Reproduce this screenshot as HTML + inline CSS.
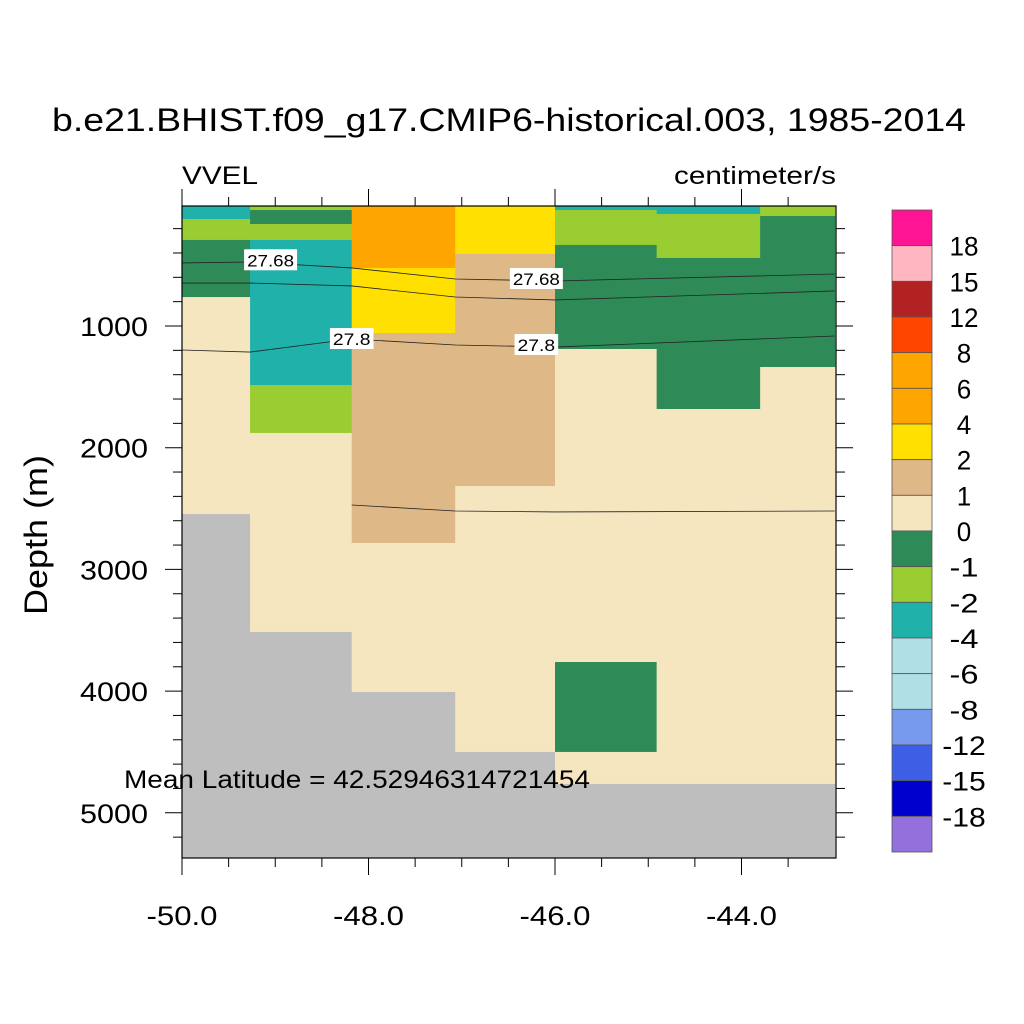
<!DOCTYPE html>
<html><head><meta charset="utf-8"><style>
body{margin:0;background:#fff;}
svg{display:block;font-family:"Liberation Sans",Arial,sans-serif;}
</style></head><body>
<svg id="chart" width="1024" height="1024" viewBox="0 0 1024 1024">
<text x="509" y="131" font-size="32" text-anchor="middle" textLength="914" lengthAdjust="spacingAndGlyphs">b.e21.BHIST.f09_g17.CMIP6-historical.003, 1985-2014</text>
<text x="182" y="184" font-size="25" textLength="76" lengthAdjust="spacingAndGlyphs">VVEL</text>
<text x="836" y="184" font-size="25" text-anchor="end" textLength="162" lengthAdjust="spacingAndGlyphs">centimeter/s</text>
<text transform="translate(47,535) rotate(-90)" font-size="32" text-anchor="middle" textLength="160" lengthAdjust="spacingAndGlyphs">Depth (m)</text>
<g id="cells"></g>
<g id="contours"></g>
<g id="axes"></g>
<text x="124" y="788" font-size="25" textLength="466" lengthAdjust="spacingAndGlyphs">Mean Latitude = 42.52946314721454</text>
<g id="colorbar"></g>
</svg>
<script>
// longitude edges of columns
const lonEdges = [-50, -49.27, -48.18, -47.07, -46.0, -44.91, -43.80, -43.0];
// per column: segment depth boundaries (m) and velocity values (cm/s, null = land)
const colDepths = [
  [14, 121, 293, 762, 2545, 5371],
  [14, 47, 162, 293, 1485, 1879, 3514, 5371],
  [14, 523, 1058, 2783, 4007, 5371],
  [14, 408, 2315, 4500, 5371],
  [14, 47, 334, 1189, 3761, 4500, 4763, 5371],
  [14, 80, 441, 1682, 4763, 5371],
  [14, 96, 1337, 4763, 5371]
];
const colValues = [
  [-3, -1.5, -0.5, 0.5, null],
  [-1.5, -0.5, -1.5, -3, -1.5, 0.5, null],
  [5, 3, 1.5, 0.5, null],
  [3, 1.5, 0.5, null],
  [-3, -1.5, -0.5, 0.5, -0.5, 0.5, null],
  [-3, -1.5, -0.5, 0.5, null],
  [-1.5, -0.5, 0.5, null]
];
// contours
const contourLons = [-50, -49.27, -48.18, -47.07, -46.0, -43.0];
const contour1 = [482, 474, 523, 614, 630, 573];
const contour2 = [647, 647, 671, 762, 786, 712];
const contour3 = [1197, 1214, 1107, 1156, 1173, 1082];
const contour4Lons = [-48.18, -47.07, -46.0, -43.0];
const contour4 = [2471, 2520, 2528, 2520];
const contourLabels = ["27.68", "27.68", "27.8", "27.8"];
const labelLons = [-49.05, -46.2, -48.18, -46.2];
const labelDepths = [460, 614, 1107, 1156];
// ticks
const xTickLabels = ["-50.0", "-48.0", "-46.0", "-44.0"];
const xTickValues = [-50, -48, -46, -44];
const yTickValues = [1000, 2000, 3000, 4000, 5000];
// colorbar
const cbLevels = ["18","15","12","8","6","4","2","1","0","-1","-2","-4","-6","-8","-12","-15","-18"];
const cbColors = ["#ff1493","#ffb6c1","#b22222","#ff4500","#ffa500","#ffa500","#ffe000","#deb887","#f5e6c0","#2e8b57","#9acd32","#20b2aa","#b0e0e6","#b0e0e6","#7799ee","#3c5fe6","#0000cd","#9370db"];

const X0 = 182, X1 = 836, Y0 = 206, Y1 = 858;
const xs = lon => X0 + (lon + 50) * 93.25;
const ys = d => 326 + (d - 1000) * 0.1217;
const NS = "http://www.w3.org/2000/svg";
function mk(tag, attrs, parent) {
  const e = document.createElementNS(NS, tag);
  for (const k in attrs) e.setAttribute(k, attrs[k]);
  parent.appendChild(e);
  return e;
}
function colorFor(v) {
  if (v === null) return "#bebebe";
  const b = [-18,-15,-12,-8,-6,-4,-2,-1,0,1,2,4,6,8,12,15,18];
  let i = 0; while (i < b.length && v >= b[i]) i++;
  return cbColors[cbColors.length - 1 - i];
}
const cells = document.getElementById('cells');
for (let c = 0; c < colValues.length; c++) {
  for (let s = 0; s < colValues[c].length; s++) {
    const x = xs(lonEdges[c]), w = xs(lonEdges[c+1]) - x;
    const y = Math.max(Y0, ys(colDepths[c][s])), yb = Math.min(Y1, ys(colDepths[c][s+1]));
    const r = mk('rect', {x: x, y: y, width: w + 0.5, height: yb - y + 0.5, fill: colorFor(colValues[c][s])}, cells);
    
    
  }
}
const cg = document.getElementById('contours');
function line(lons, ds) {
  const p = mk('polyline', {points: lons.map((l, i) => xs(l) + ',' + ys(ds[i])).join(' '), fill: 'none', stroke: '#222', 'stroke-width': 0.8}, cg);
  
  
}
line(contourLons, contour1); line(contourLons, contour2); line(contourLons, contour3); line(contour4Lons, contour4);
for (let i = 0; i < contourLabels.length; i++) {
  const cx = xs(labelLons[i]), cy = ys(labelDepths[i]);
  const tw = contourLabels[i].length * 9.4;
  const r = mk('rect', {x: cx - tw/2 - 3, y: cy - 11, width: tw + 6, height: 21, fill: '#fff'}, cg);
  
  
  const t = mk('text', {x: cx, y: cy + 6, 'font-size': 17, 'text-anchor': 'middle', textLength: tw, lengthAdjust: 'spacingAndGlyphs'}, cg);
  t.textContent = contourLabels[i];
  
  
}
const ax = document.getElementById('axes');
mk('rect', {x: X0, y: Y0, width: X1 - X0, height: Y1 - Y0, fill: 'none', stroke: '#000', 'stroke-width': 1.2}, ax);
for (let l = -50; l <= -43.001; l += 0.5) {
  const major = Math.abs(l - Math.round(l / 2) * 2) < 0.01;
  const L = major ? 17 : 9, x = xs(l);
  mk('line', {x1: x, y1: Y1, x2: x, y2: Y1 + L, stroke: '#000', 'stroke-width': 1}, ax);
  mk('line', {x1: x, y1: Y0, x2: x, y2: Y0 - L, stroke: '#000', 'stroke-width': 1}, ax);
}
for (let d = 200; d <= 5300; d += 200) {
  const major = d % 1000 === 0, L = major ? 17 : 9, y = ys(d);
  if (y < Y0) continue;
  mk('line', {x1: X0, y1: y, x2: X0 - L, y2: y, stroke: '#000', 'stroke-width': 1}, ax);
  mk('line', {x1: X1, y1: y, x2: X1 + L, y2: y, stroke: '#000', 'stroke-width': 1}, ax);
}
xTickValues.forEach((v, i) => {
  const t = mk('text', {x: xs(v), y: 925, 'font-size': 27, 'text-anchor': 'middle', textLength: 71, lengthAdjust: 'spacingAndGlyphs'}, ax);
  t.textContent = xTickLabels[i];
  
  
});
yTickValues.forEach(v => {
  const t = mk('text', {x: 148, y: ys(v) + 10, 'font-size': 27, 'text-anchor': 'end', textLength: 68, lengthAdjust: 'spacingAndGlyphs'}, ax);
  t.textContent = String(v);
  
  
});
const cb = document.getElementById('colorbar');
const bh = (852 - 210) / cbColors.length;
cbColors.forEach((c, i) => {
  const r = mk('rect', {x: 892, y: 210 + i * bh, width: 40, height: bh, fill: c, stroke: '#555', 'stroke-width': 0.8}, cb);
  
  
});
cbLevels.forEach((l, i) => {
  const t = mk('text', {x: 964, y: 210 + (i + 1) * bh + 10, 'font-size': 27, 'text-anchor': 'middle', textLength: l.length * 14.5, lengthAdjust: 'spacingAndGlyphs'}, cb);
  t.textContent = l;
  
  
});
</script>
</body></html>
